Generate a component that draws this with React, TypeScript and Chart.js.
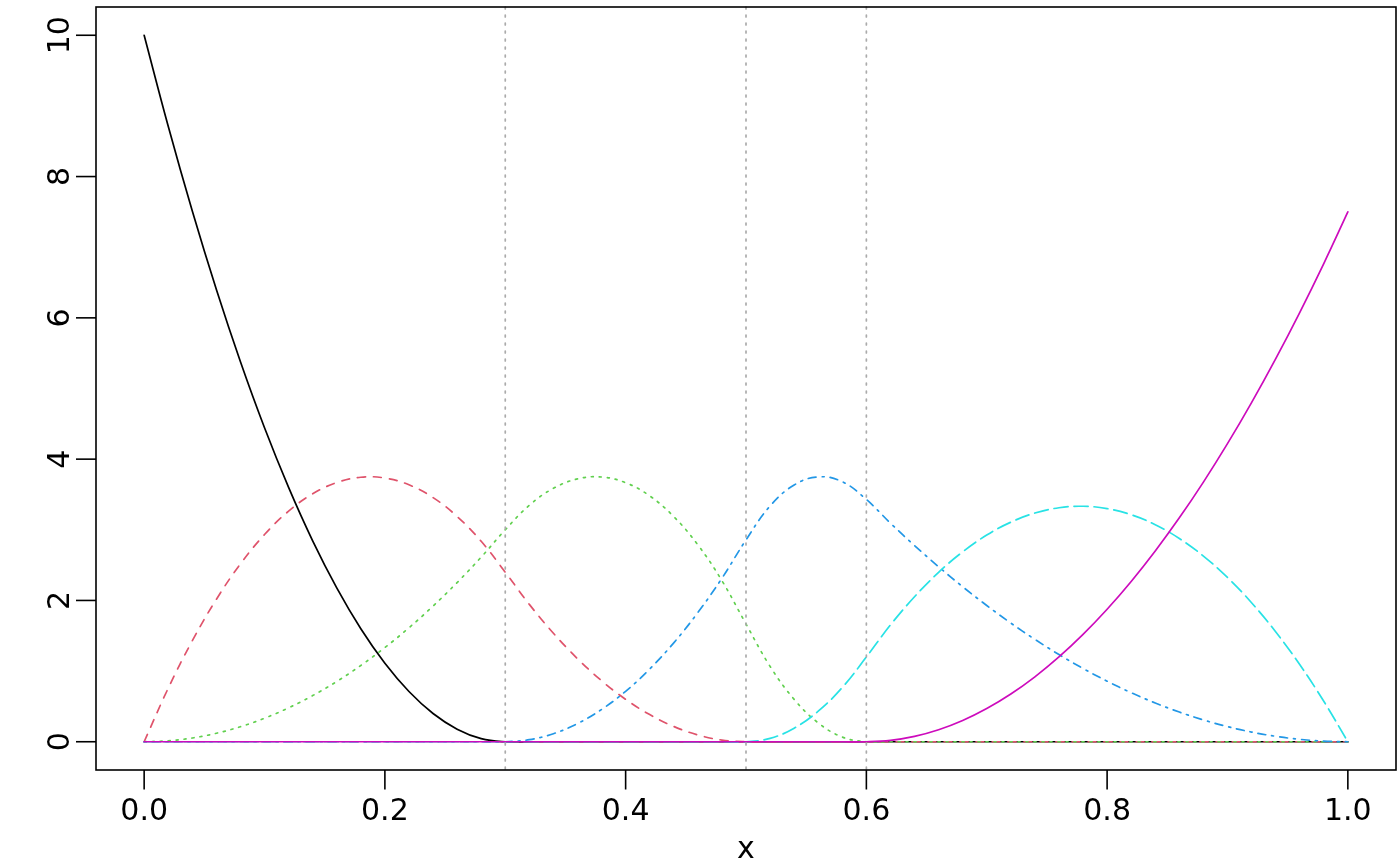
import React, { useEffect, useRef } from "react";
import { Chart, registerables } from "chart.js";

Chart.register(...registerables);

const xValues = [
  0, 0.02, 0.04, 0.06, 0.08, 0.1, 0.12, 0.14, 0.16, 0.18, 0.2, 0.22, 0.24, 0.26, 0.28, 0.3,
  0.32, 0.34, 0.36, 0.38, 0.4, 0.42, 0.44, 0.46, 0.48, 0.5, 0.52, 0.54, 0.56, 0.58, 0.6,
  0.62, 0.64, 0.66, 0.68, 0.7, 0.72, 0.74, 0.76, 0.78, 0.8, 0.82, 0.84, 0.86, 0.88, 0.9,
  0.92, 0.94, 0.96, 0.98, 1,
];

const basis1 = [
  10, 8.711, 7.511, 6.4, 5.378, 4.444, 3.6, 2.844, 2.178, 1.6, 1.111, 0.711, 0.4, 0.178, 0.044, 0,
  0, 0, 0, 0, 0, 0, 0, 0, 0, 0, 0, 0, 0, 0, 0,
  0, 0, 0, 0, 0, 0, 0, 0, 0, 0, 0, 0, 0, 0, 0, 0, 0, 0, 0, 0,
];
const basis2 = [
  0, 0.757, 1.429, 2.016, 2.517, 2.933, 3.264, 3.509, 3.669, 3.744, 3.733, 3.637, 3.456, 3.189, 2.837, 2.4,
  1.944, 1.536, 1.176, 0.864, 0.6, 0.384, 0.216, 0.096, 0.024, 0, 0, 0, 0, 0, 0,
  0, 0, 0, 0, 0, 0, 0, 0, 0, 0, 0, 0, 0, 0, 0, 0, 0, 0, 0, 0,
];
const basis3 = [
  0, 0.013, 0.053, 0.12, 0.213, 0.333, 0.48, 0.653, 0.853, 1.08, 1.333, 1.613, 1.92, 2.253, 2.613, 3.0,
  3.347, 3.587, 3.72, 3.747, 3.667, 3.48, 3.187, 2.787, 2.28, 1.667, 1.067, 0.6, 0.267, 0.067, 0,
  0, 0, 0, 0, 0, 0, 0, 0, 0, 0, 0, 0, 0, 0, 0, 0, 0, 0, 0, 0,
];
const basis4 = [
  0, 0, 0, 0, 0, 0, 0, 0, 0, 0, 0, 0, 0, 0, 0, 0,
  0.029, 0.114, 0.257, 0.457, 0.714, 1.029, 1.4, 1.829, 2.314, 2.857, 3.337, 3.634, 3.749, 3.68, 3.429,
  3.094, 2.777, 2.477, 2.194, 1.929, 1.68, 1.449, 1.234, 1.037, 0.857, 0.694, 0.549, 0.42, 0.309, 0.214,
  0.137, 0.077, 0.034, 0.009, 0,
];
const basis5 = [
  0, 0, 0, 0, 0, 0, 0, 0, 0, 0, 0, 0, 0, 0, 0, 0,
  0, 0, 0, 0, 0, 0, 0, 0, 0, 0, 0.048, 0.192, 0.432, 0.768, 1.2,
  1.653, 2.052, 2.397, 2.688, 2.925, 3.108, 3.237, 3.312, 3.333, 3.3, 3.213, 3.072, 2.877, 2.628, 2.325,
  1.968, 1.557, 1.092, 0.573, 0,
];
const basis6 = [
  0, 0, 0, 0, 0, 0, 0, 0, 0, 0, 0, 0, 0, 0, 0, 0,
  0, 0, 0, 0, 0, 0, 0, 0, 0, 0, 0, 0, 0, 0, 0,
  0.019, 0.075, 0.169, 0.3, 0.469, 0.675, 0.919, 1.2, 1.519, 1.875, 2.269, 2.7, 3.169, 3.675, 4.219,
  4.8, 5.419, 6.075, 6.769, 7.5,
];

const seriesList = [basis1, basis2, basis3, basis4, basis5, basis6];
const seriesColors = ["#000000", "#DF536B", "#61D04F", "#2297E6", "#28E2E5", "#CD0BBC"];
const seriesDashes: number[][] = [[], [8, 8], [2, 6], [2, 6, 8, 6], [14, 6], []];

const knots = [0.3, 0.5, 0.6];
const xTicks = [0, 0.2, 0.4, 0.6, 0.8, 1.0];
const xTickLabels = ["0.0", "0.2", "0.4", "0.6", "0.8", "1.0"];
const yTicks = [0, 2, 4, 6, 8, 10];
const yTickLabels = ["0", "2", "4", "6", "8", "10"];
const xTitle = "x";

const FONT = "30px 'DejaVu Sans', sans-serif";

const knotPlugin = {
  id: "knotLines",
  afterDatasetsDraw(chart: any) {
    const { ctx, chartArea, scales } = chart;
    ctx.save();
    ctx.strokeStyle = "#ABABAB";
    ctx.lineWidth = 1.7;
    ctx.lineCap = "round";
    ctx.setLineDash([2, 6]);
    for (const k of knots) {
      const px = scales.x.getPixelForValue(k);
      ctx.beginPath();
      ctx.moveTo(px, chartArea.top);
      ctx.lineTo(px, chartArea.bottom);
      ctx.stroke();
    }
    ctx.restore();
  },
};

const axesPlugin = {
  id: "rAxes",
  afterDraw(chart: any) {
    const { ctx, chartArea, scales } = chart;
    const { left, top, right, bottom } = chartArea;
    ctx.save();
    ctx.setLineDash([]);
    ctx.strokeStyle = "#000000";
    ctx.lineWidth = 1.6;
    ctx.strokeRect(left, top, right - left, bottom - top);

    ctx.fillStyle = "#000000";
    ctx.font = FONT;
    ctx.textAlign = "center";
    ctx.textBaseline = "alphabetic";
    xTicks.forEach((v, i) => {
      const px = scales.x.getPixelForValue(v);
      ctx.beginPath();
      ctx.moveTo(px, bottom);
      ctx.lineTo(px, bottom + 19.5);
      ctx.stroke();
      ctx.fillText(xTickLabels[i], px, 820);
    });
    yTicks.forEach((v, i) => {
      const py = scales.y.getPixelForValue(v);
      ctx.beginPath();
      ctx.moveTo(left, py);
      ctx.lineTo(left - 20, py);
      ctx.stroke();
      ctx.save();
      ctx.translate(69, py);
      ctx.rotate(-Math.PI / 2);
      ctx.textAlign = "center";
      ctx.textBaseline = "alphabetic";
      ctx.fillText(yTickLabels[i], 0, 0);
      ctx.restore();
    });
    ctx.textAlign = "center";
    ctx.fillText(xTitle, (left + right) / 2, 858);
    ctx.restore();
  },
};

export default function App() {
  const canvasRef = useRef<HTMLCanvasElement | null>(null);

  useEffect(() => {
    document.body.style.margin = "0";
    const canvas = canvasRef.current;
    if (!canvas) return;
    const datasets = seriesList.map((s, i) => ({
      label: "basis " + (i + 1),
      data: xValues.map((x, j) => ({ x, y: s[j] })),
      borderColor: seriesColors[i],
      borderWidth: 1.7,
      borderDash: seriesDashes[i],
      borderCapStyle: "round" as const,
      borderJoinStyle: "round" as const,
      pointRadius: 0,
      fill: false,
      tension: 0.4,
      cubicInterpolationMode: "default" as const,
      order: seriesList.length - 1 - i,
    }));
    const chart = new Chart(canvas, {
      type: "line",
      data: { datasets },
      options: {
        responsive: false,
        animation: false,
        devicePixelRatio: 1,
        layout: { padding: { left: 96, top: 7, right: 4, bottom: 96 } },
        plugins: { legend: { display: false }, tooltip: { enabled: false } },
        scales: {
          x: { type: "linear", min: -0.04, max: 1.04, display: false },
          y: { type: "linear", min: -0.4, max: 10.4, display: false },
        },
      },
      plugins: [knotPlugin, axesPlugin],
    });
    return () => chart.destroy();
  }, []);

  return (
    <canvas
      ref={canvasRef}
      width={1400}
      height={866}
      style={{ display: "block", width: 1400, height: 866, background: "#ffffff" }}
    />
  );
}
